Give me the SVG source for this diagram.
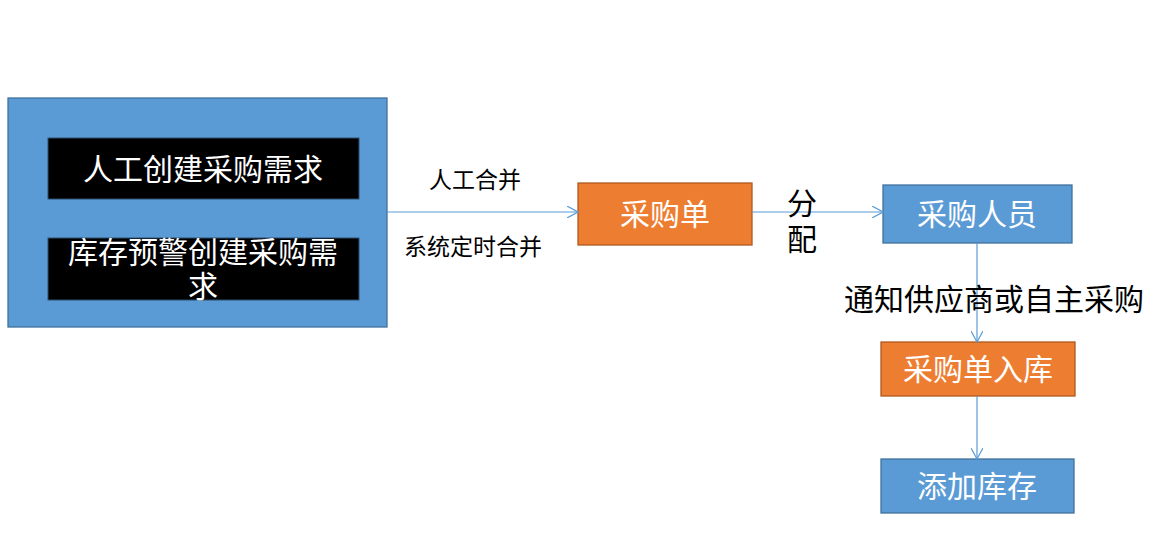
<svg xmlns="http://www.w3.org/2000/svg" width="1161" height="536" viewBox="0 0 1161 536">
<style>
.blue{fill:#5B9BD5;stroke:#41719C;stroke-width:1.3}
.orange{fill:#ED7D31;stroke:#AE5A21;stroke-width:1.3}
.black{fill:#000;stroke:#2F4F6F;stroke-width:1}
.t{font-family:"Microsoft YaHei","Noto Sans CJK SC",sans-serif;font-size:30px;fill:#fff;text-anchor:middle}
.lbl{font-family:"Microsoft YaHei","Noto Sans CJK SC",sans-serif;fill:#000;text-anchor:middle}
.conn{stroke:#5B9BD5;stroke-width:1.2;fill:none}
</style>
<defs>
<marker id="arr" viewBox="0 0 12 12" refX="11" refY="6" markerWidth="12" markerHeight="12" markerUnits="userSpaceOnUse" orient="auto">
<path d="M0,0 L11,6 L0,12" fill="none" stroke="#5B9BD5" stroke-width="1.2"/>
</marker>
</defs>
<g id="source">
<rect class="blue" x="8" y="98" width="379" height="229"/>
<g id="manual">
<rect class="black" x="48" y="138" width="311" height="61"/>
<text class="t" x="203" y="180">人工创建采购需求</text>
</g>
<g id="warning">
<rect class="black" x="48" y="238" width="311" height="62"/>
<text class="t" x="203" y="263">库存预警创建采购需</text>
<text class="t" x="203" y="297">求</text>
</g>
</g>
<g id="order">
<rect class="orange" x="578" y="183" width="174" height="62"/>
<text class="t" x="665" y="225">采购单</text>
</g>
<g id="buyer">
<rect class="blue" x="883" y="185" width="189" height="58"/>
<text class="t" x="977" y="225">采购人员</text>
</g>
<g id="inbound">
<rect class="orange" x="881" y="342" width="194" height="54"/>
<text class="t" x="978" y="380">采购单入库</text>
</g>
<g id="stock">
<rect class="blue" x="881" y="459" width="193" height="54"/>
<text class="t" x="977" y="497">添加库存</text>
</g>
<g id="connectors">
<line class="conn" x1="387" y1="212" x2="578" y2="212" marker-end="url(#arr)"/>
<line class="conn" x1="752" y1="212" x2="883" y2="212" marker-end="url(#arr)"/>
<line class="conn" x1="977" y1="243" x2="977" y2="342" marker-end="url(#arr)"/>
<line class="conn" x1="977" y1="396" x2="977" y2="459" marker-end="url(#arr)"/>
</g>
<g id="labels">
<text class="lbl" x="475" y="188" font-size="23">人工合并</text>
<text class="lbl" x="473" y="255" font-size="23">系统定时合并</text>
<text class="lbl" x="802" y="214" font-size="30">分</text>
<text class="lbl" x="802" y="250" font-size="30">配</text>
<text class="lbl" x="994" y="310" font-size="30">通知供应商或自主采购</text>
</g>
</svg>
